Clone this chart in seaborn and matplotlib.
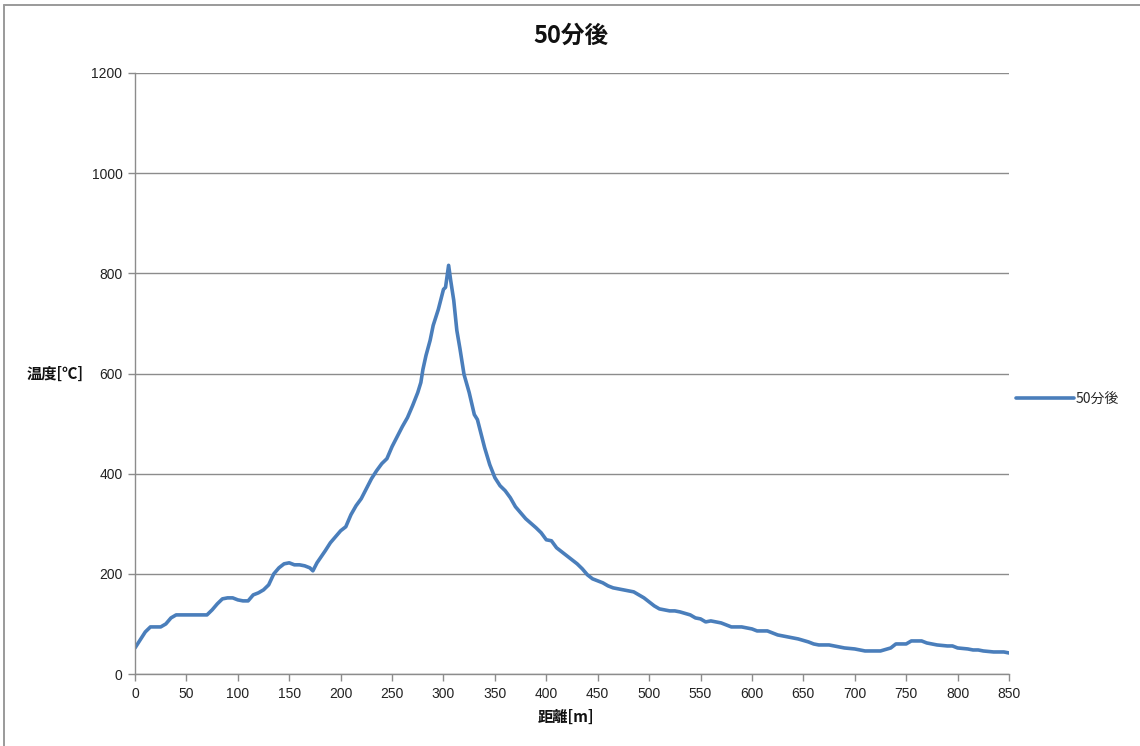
import numpy as np
import pandas as pd
import matplotlib
matplotlib.use("Agg")
import matplotlib.pyplot as plt
import seaborn as sns
from matplotlib.lines import Line2D

# Distance along the route [m]
distance = [0, 5, 10, 15, 20, 25, 30, 35, 40, 50, 60, 70, 75, 80, 85, 90, 95, 100,
            105, 110, 115, 120, 125, 130, 135, 140, 145, 150, 155, 160, 165, 170, 173,
            177, 185, 190, 195, 200, 205, 210, 215, 220, 225, 230, 235, 240, 245, 250,
            255, 260, 265, 270, 275, 278, 280, 283, 287, 290, 295, 298, 300, 302, 305,
            307, 310, 313, 316, 320, 325, 330, 333, 340, 345, 350, 355, 360, 365, 370,
            375, 380, 390, 395, 400, 405, 410, 415, 420, 425, 430, 435, 440, 445, 450,
            455, 460, 465, 470, 475, 480, 485, 490, 495, 500, 505, 510, 515, 520, 525,
            530, 540, 545, 550, 555, 560, 565, 570, 575, 580, 590, 595, 600, 605, 615,
            620, 625, 635, 645, 655, 660, 665, 675, 680, 690, 700, 705, 710, 720, 725,
            735, 740, 750, 755, 765, 770, 780, 790, 795, 800, 810, 815, 820, 825, 835,
            840, 845, 850]

# Temperature after 50 minutes [deg C]
temperature = [52, 68, 84, 94, 94, 94, 100, 112, 118, 118, 118, 118, 128, 140, 150, 152,
               152, 148, 146, 146, 158, 162, 168, 178, 200, 212, 220, 222, 218, 218, 216,
               212, 206, 222, 246, 262, 274, 286, 294, 318, 336, 350, 370, 390, 406, 420,
               430, 454, 474, 494, 512, 536, 562, 582, 608, 636, 666, 696, 728, 752, 768,
               772, 816, 786, 746, 686, 650, 598, 562, 518, 508, 452, 418, 392, 376, 366,
               352, 334, 322, 310, 292, 282, 268, 266, 252, 244, 236, 228, 220, 210, 198,
               190, 186, 182, 176, 172, 170, 168, 166, 164, 158, 152, 144, 136, 130, 128,
               126, 126, 124, 118, 112, 110, 104, 106, 104, 102, 98, 94, 94, 92, 90, 86,
               86, 82, 78, 74, 70, 64, 60, 58, 58, 56, 52, 50, 48, 46, 46, 46, 52, 60, 60,
               66, 66, 62, 58, 56, 56, 52, 50, 48, 48, 46, 44, 44, 44, 42]

series_name = "50分後"
title_text = "50分後"
x_label = "距離[m]"
y_label = "温度[℃]"
x_ticks = list(range(0, 851, 50))
y_ticks = list(range(0, 1201, 200))

df = pd.DataFrame({"距離": distance, "温度": temperature})

sns.set_theme(style="white")
plt.rcParams["font.family"] = ["Noto Sans CJK JP", "DejaVu Sans"]

fig = plt.figure(figsize=(11.4, 7.46), dpi=100)
ax = fig.add_axes([135 / 1140, 72 / 746, 874 / 1140, 601 / 746])

line_color = "#4A7EBB"
sns.lineplot(data=df, x="距離", y="温度", ax=ax, color=line_color, linewidth=2.6,
             legend=False)

ax.set_xlim(0, 850)
ax.set_ylim(0, 1200)
ax.set_xticks(x_ticks)
ax.set_yticks(y_ticks)
ax.set_xticklabels([str(v) for v in x_ticks], fontsize=10, color="#222222",
                   family="Liberation Sans")
ax.set_yticklabels([str(v) for v in y_ticks], fontsize=10, color="#222222",
                   family="Liberation Sans")
ax.yaxis.grid(True, color="#8c8c8c", linewidth=1.0)
ax.xaxis.grid(False)
ax.set_axisbelow(True)

for side in ["top", "right"]:
    ax.spines[side].set_visible(False)
for side in ["left", "bottom"]:
    ax.spines[side].set_color("#8c8c8c")
    ax.spines[side].set_linewidth(1.0)
ax.tick_params(axis="both", which="major", direction="out", length=5, width=1,
               color="#8c8c8c", pad=4, bottom=True, left=True)

ax.set_xlabel("")
ax.set_ylabel("")
fig.text(566 / 1140, 1 - 717 / 746, x_label, ha="center", va="center",
         fontsize=11, fontweight="bold", color="#111111")
fig.text(55 / 1140, 1 - 374 / 746, y_label, ha="center", va="center",
         fontsize=11, fontweight="bold", color="#111111")
fig.text(571 / 1140, 1 - 36 / 746, title_text, ha="center", va="center",
         fontsize=17, fontweight="bold", color="#111111")

# Legend on the right
handle = Line2D([0], [0], color=line_color, linewidth=2.6)
fig.legend([handle], [series_name], loc="center left",
           bbox_to_anchor=(1003 / 1140, 1 - 399 / 746), frameon=False,
           fontsize=10, handlelength=4.2, handletextpad=0.15)

# Chart frame edges (top and left)
frame_kw = dict(transform=fig.transFigure, color="#9a9a9a", linewidth=1.4)
fig.add_artist(Line2D([4 / 1140, 1], [1 - 5 / 746, 1 - 5 / 746], **frame_kw))
fig.add_artist(Line2D([4 / 1140, 4 / 1140], [0, 1 - 5 / 746], **frame_kw))

fig.savefig("out.png", dpi=100)
